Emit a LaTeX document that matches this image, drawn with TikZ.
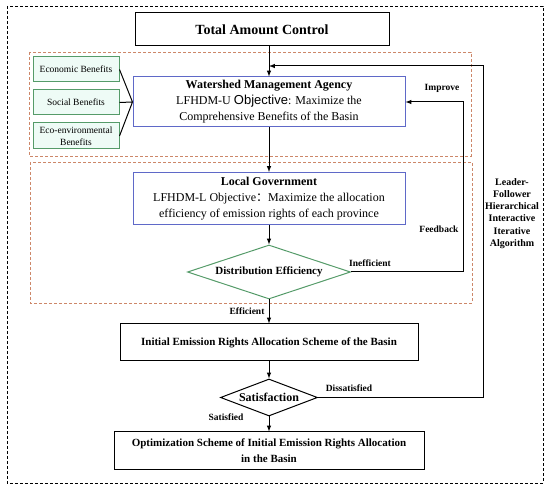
\documentclass[tikz,border=0pt]{standalone}
\usepackage{fontspec}
\setmainfont{Liberation Serif}
\setsansfont{Liberation Sans}
\newfontfamily\cjk{Noto Sans CJK SC}
\usetikzlibrary{arrows,shapes.geometric,positioning}
\definecolor{agreen}{RGB}{85,155,105}
\definecolor{afill}{RGB}{238,251,246}
\definecolor{ablue}{RGB}{95,105,200}
\definecolor{aorange}{RGB}{205,135,105}
\tikzstyle{aS}=[every edge/.style={draw,->,>=latex,line width=1pt}]
\tikzstyle{Abox}=[draw,line width=1pt,inner sep=0pt,align=center,font=\rmfamily\bfseries\fontsize{11}{16}\selectfont]
\tikzstyle{Ablue}=[draw=ablue,line width=1pt,inner sep=0pt,align=center,minimum width=272pt,font=\rmfamily\fontsize{12}{16}\selectfont]
\tikzstyle{Agreen}=[draw=agreen,fill=afill,line width=1pt,inner sep=0pt,align=center,minimum width=86pt,minimum height=25pt,font=\rmfamily\fontsize{9.5}{12}\selectfont]
\tikzstyle{Adiam}=[draw,diamond,line width=1pt,inner sep=0pt,font=\rmfamily\bfseries\fontsize{11}{13}\selectfont]
\tikzstyle{Alab}=[inner sep=0pt,font=\rmfamily\bfseries\fontsize{9.5}{12}\selectfont]
\tikzstyle{Agroup}=[draw=aorange,densely dashed,line width=0.8pt]
\begin{document}
\begin{tikzpicture}[aS,x=1pt,y=-1pt]
  \useasboundingbox (0,0) rectangle (550,489);
  \draw[densely dashed,line width=0.8pt] (7,6) rectangle (543,483);
  \draw[Agroup] (29,52) rectangle (471,156);
  \draw[Agroup] (30,162) rectangle (472,303);
  % upper level
  \node[Abox,minimum width=254pt,minimum height=33pt,font=\rmfamily\bfseries\fontsize{14}{16}\selectfont] (tac) at (262,29.5) {Total Amount Control};
  \node[Ablue,minimum height=50pt] (wma) at (269,102) {\textbf{Watershed Management Agency}\\LFHDM-U \textsf{\fontsize{13}{16}\selectfont Objective}: Maximize the\\Comprehensive Benefits of the Basin};
  \node[Agreen] (ec) at (76,69.5) {Economic Benefits};
  \node[Agreen] (so) at (76,102.5) {Social Benefits};
  \node[Agreen,minimum height=26pt] (eco) at (76,136) {Eco-environmental\\Benefits};
  % lower level
  \node[Ablue,minimum height=52pt] (lg) at (269,198.5) {\textbf{Local Government}\\LFHDM-L Objective{\cjk ：}Maximize the allocation\\efficiency of emission rights of each province};
  \node[Adiam,draw=agreen,aspect=3,minimum width=163pt,minimum height=54pt] (de) at (269,272) {Distribution Efficiency};
  % result
  \node[Abox,minimum width=298pt,minimum height=37pt] (ie) at (269,342.5) {Initial Emission Rights Allocation Scheme of the Basin};
  \node[Adiam,aspect=2.6,minimum width=97pt,minimum height=37pt,font=\rmfamily\bfseries\fontsize{12}{13}\selectfont] (sat) at (269,397.5) {Satisfaction};
  \node[Abox,minimum width=310pt,minimum height=38pt] (opt) at (269,451) {Optimization Scheme of Initial Emission Rights Allocation\\in the Basin};
  \path (tac.south -| wma.north) edge (wma.north) (wma) edge (lg) (lg) edge (de) (de) edge (ie) (ie) edge (sat) (sat) edge (opt);
  \draw[line width=1pt] (ec.east) -- (wma.west) (so.east) -- (wma.west) (eco.east) -- (wma.west);
  % loops
  \coordinate (fb) at (463,102);
  \draw[->,>=latex,line width=1pt] (de.east) -| (fb) -- (wma.east);
  \coordinate (ds) at (483,66);
  \draw[->,>=latex,line width=1pt] (sat.east) -| (ds) -- (ds -| wma.north);
  \node[Alab] (imp) at (442,88) {Improve};
  \node[Alab] (feed) at (439,229) {Feedback};
  \node[Alab] (ineff) at (370,263) {Inefficient};
  \node[Alab] (eff) at (247,311) {Efficient};
  \node[Alab] (satd) at (226,417) {Satisfied};
  \node[Alab] (dsat) at (349,388) {Dissatisfied};
  \node[Alab,align=center,font=\rmfamily\bfseries\fontsize{10}{12.2}\selectfont] (alg) at (512,213.5) {Leader-\\Follower\\Hierarchical\\Interactive\\Iterative\\Algorithm};
\end{tikzpicture}
\end{document}
